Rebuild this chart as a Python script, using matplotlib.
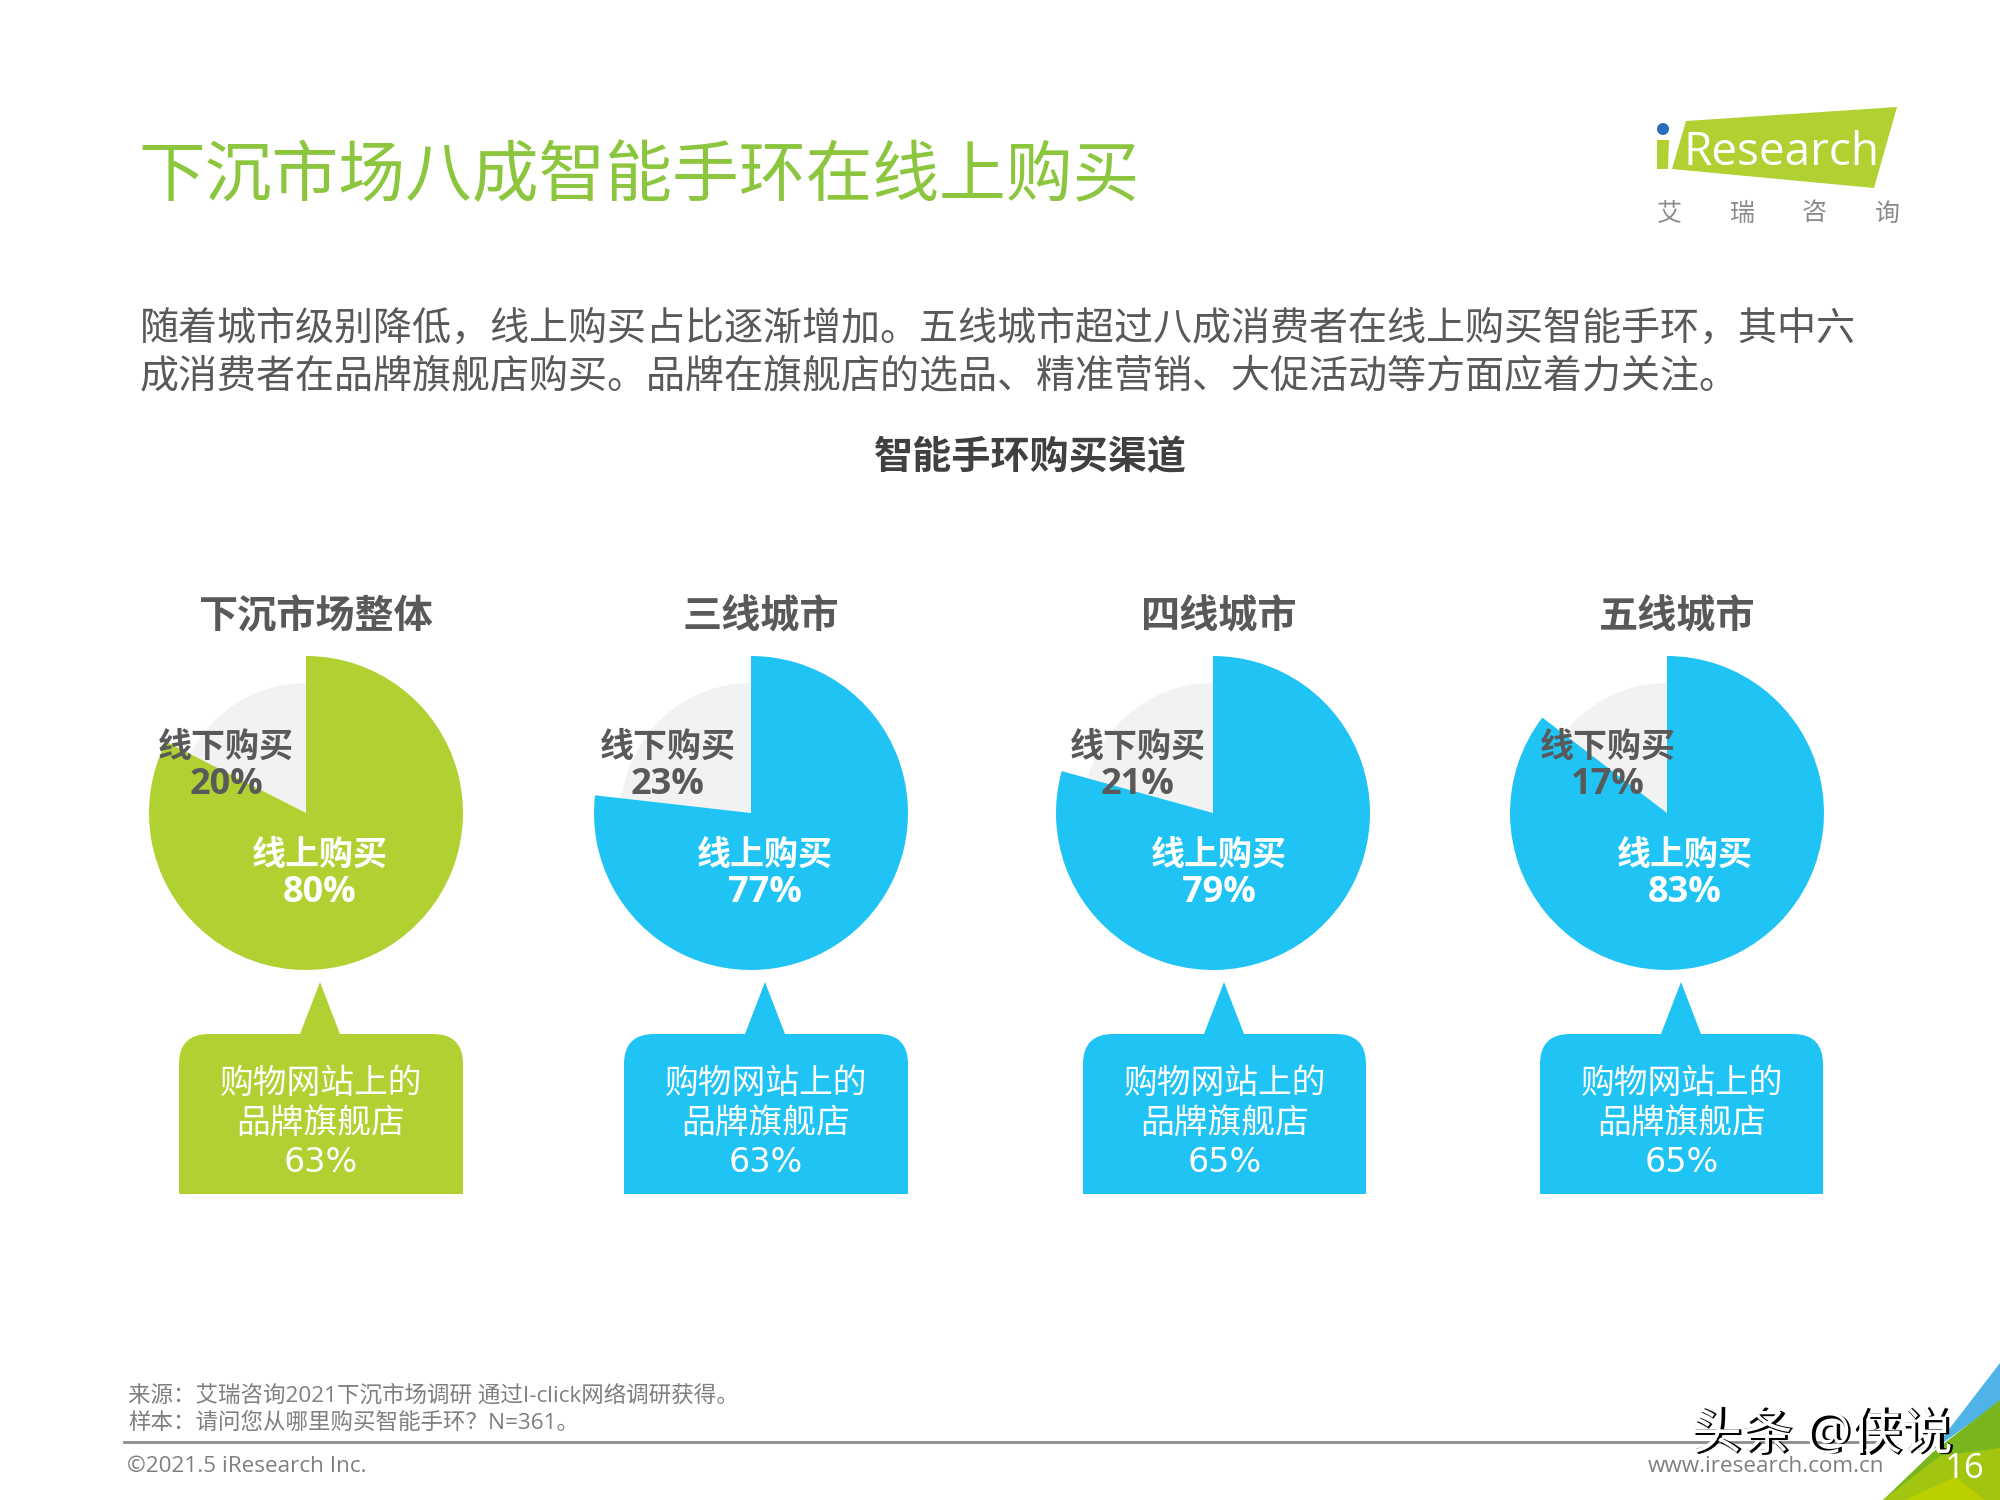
import matplotlib
matplotlib.use('Agg')
import matplotlib.pyplot as plt
from matplotlib.patches import PathPatch, Polygon, Circle
from matplotlib.path import Path

plt.rcParams['font.family'] = ['Open Sans', 'Noto Sans CJK SC', 'DejaVu Sans']

# data
regions = ['下沉市场整体', '三线城市', '四线城市', '五线城市']
online_share = [80, 77, 79, 83]
offline_share = [20, 23, 21, 17]
flagship_share = [63, 63, 65, 65]
# the gray wedges on the slide are drawn a bit off their printed labels
offline_wedge = [17.5, 23.2, 20.7, 14.6]
online_wedge = [82.5, 76.8, 79.3, 85.4]
pie_colors = ['#B1D133', '#1FC4F4', '#1FC4F4', '#1FC4F4']

title = '下沉市场八成智能手环在线上购买'
intro = ['随着城市级别降低，线上购买占比逐渐增加。五线城市超过八成消费者在线上购买智能手环，其中六',
         '成消费者在品牌旗舰店购买。品牌在旗舰店的选品、精准营销、大促活动等方面应着力关注。']
chart_title = '智能手环购买渠道'
source_notes = ['来源：艾瑞咨询2021下沉市场调研 通过I-click网络调研获得。',
                '样本：请问您从哪里购买智能手环？N=361。']

# layout, in pixels of the 2000x1500 slide
W, H = 2000, 1500
PIE_X = [306, 751, 1213, 1667]
PIE_Y = 813
R_BIG = 157
R_SMALL = 130
HEAD_X = [316, 761, 1219, 1677]
OFF_X = [226, 668, 1138, 1608]
ON_X = [320, 765, 1219, 1685]
BOX_LEFT = [179, 624, 1083, 1540]
BOX_RIGHT = [463, 908, 1366, 1823]
APEX_X = [320, 765, 1224, 1681]

DARK = '#595959'
TITLE_GREEN = '#8CC63F'
FOOT = '#7F7F7F'
PCT_FONT = ['DejaVu Sans']


def draw_callout(ax, x0, x1, apex, color):
    top, bottom, tip, r, hw = 1034, 1194, 982, 30, 20
    verts = [(x0, bottom), (x0, top + r), (x0, top), (x0 + r, top),
             (apex - hw, top), (apex, tip), (apex + hw, top),
             (x1 - r, top), (x1, top), (x1, top + r), (x1, bottom), (x0, bottom)]
    codes = [Path.MOVETO, Path.LINETO, Path.CURVE3, Path.CURVE3,
             Path.LINETO, Path.LINETO, Path.LINETO,
             Path.LINETO, Path.CURVE3, Path.CURVE3, Path.LINETO, Path.CLOSEPOLY]
    ax.add_patch(PathPatch(Path(verts, codes), fc=color, ec='none'))


def draw_pie(cx, online, offline, color):
    # one axes for each pie, big online wedge over the smaller offline one
    pad = R_BIG + 3
    box = [(cx - pad) / W, 1 - (PIE_Y + pad) / H, 2 * pad / W, 2 * pad / H]
    ax = fig.add_axes(box)
    ax.pie([online, offline], colors=['none', '#F2F2F2'], radius=R_SMALL / pad,
           startangle=90, counterclock=False)
    ax.pie([online, offline], colors=[color, 'none'], radius=R_BIG / pad,
           startangle=90, counterclock=False)
    ax.set_xlim(-1, 1)
    ax.set_ylim(-1, 1)
    ax.axis('off')


fig = plt.figure(figsize=(20, 15), dpi=100)
bg = fig.add_axes([0, 0, 1, 1])
bg.set_xlim(0, W)
bg.set_ylim(H, 0)
bg.axis('off')

bg.text(138, 178, title, fontsize=48.1, color=TITLE_GREEN, va='center')
bg.text(140, 330, intro[0], fontsize=28.1, color=DARK, va='center')
bg.text(140, 377, intro[1], fontsize=28.1, color=DARK, va='center')
bg.text(1030, 459, chart_title, fontsize=28.2, color='#404040', weight='bold',
        ha='center', va='center')

for i, region in enumerate(regions):
    color = pie_colors[i]
    bg.text(HEAD_X[i], 618, region, fontsize=28.2, color=DARK, weight='bold',
            ha='center', va='center')
    draw_pie(PIE_X[i], online_wedge[i], offline_wedge[i], color)
    draw_callout(bg, BOX_LEFT[i], BOX_RIGHT[i], APEX_X[i], color)
    cx = (BOX_LEFT[i] + BOX_RIGHT[i]) / 2
    bg.text(cx, 1084, '购物网站上的', fontsize=24.3, color='white', ha='center', va='center')
    bg.text(cx, 1124, '品牌旗舰店', fontsize=24.3, color='white', ha='center', va='center')
    bg.text(cx, 1163, f'{flagship_share[i]}%', fontsize=24, color='white', ha='center',
            va='center', family=PCT_FONT)

# labels go on a top layer, they sit over the pies
top = fig.add_axes([0, 0, 1, 1])
top.set_xlim(0, W)
top.set_ylim(H, 0)
top.axis('off')
top.patch.set_alpha(0)

for i in range(len(regions)):
    top.text(OFF_X[i], 748, '线下购买', fontsize=24.5, color=DARK, weight='bold', ha='center', va='center')
    top.text(OFF_X[i], 785, f'{offline_share[i]}%', fontsize=26, color=DARK, weight='bold', ha='center', va='center')
    top.text(ON_X[i], 856, '线上购买', fontsize=24.5, color='white', weight='bold', ha='center', va='center')
    top.text(ON_X[i], 893, f'{online_share[i]}%', fontsize=26, color='white', weight='bold', ha='center', va='center')

# logo
top.add_patch(Polygon([(1686, 121), (1897, 107), (1874, 188), (1672, 169)], fc='#B1D133', ec='none'))
top.add_patch(Polygon([(1657, 140), (1669, 140), (1668, 169), (1657, 169)], fc='#B1D133', ec='none'))
top.add_patch(Circle((1663, 129), 6, fc='#2A6EBB', ec='none'))
top.text(1683, 165, 'Research', fontsize=33, color='white', va='baseline')
for x, ch in zip([1669, 1742, 1814, 1887], '艾瑞咨询'):
    top.text(x, 214, ch, fontsize=18, color='#8C8C8C', ha='center', va='center')

# footer
top.text(128, 1396, source_notes[0], fontsize=16.2, color=FOOT, va='center')
top.text(128, 1423, source_notes[1], fontsize=16.2, color=FOOT, va='center')
top.plot([124, 1885], [1442, 1442], color='#8C8C8C', lw=2)
top.text(127, 1467, '©2021.5 iResearch Inc.', fontsize=16.2, color=FOOT, va='center')
top.text(1648, 1467, 'www.iresearch.com.cn', fontsize=16.2, color=FOOT, va='center')

# corner decoration
top.add_patch(Polygon([(2000, 1363), (1933, 1450), (2000, 1402)], fc='#4FB3E8', ec='none'))
top.add_patch(Polygon([(2000, 1400), (1933, 1452), (1883, 1500), (2000, 1500)], fc='#79B51C', ec='none'))
top.add_patch(Polygon([(1883, 1500), (1940, 1456), (2000, 1448), (2000, 1500)], fc='#A2C510', ec='none'))
top.add_patch(Polygon([(1905, 1500), (1955, 1477), (1985, 1500)], fc='#BCD000', ec='none'))
top.text(1945, 1469, '16', fontsize=25, color='white', va='center')

# watermark, black with a white embossed streak
top.text(1693, 1437, '头条 @侠说', fontsize=36.5, color='black', va='center', weight='bold')
top.text(1691, 1435, '头条 @侠说', fontsize=36.5, color='white', va='center')

fig.savefig('out.png', dpi=100)
